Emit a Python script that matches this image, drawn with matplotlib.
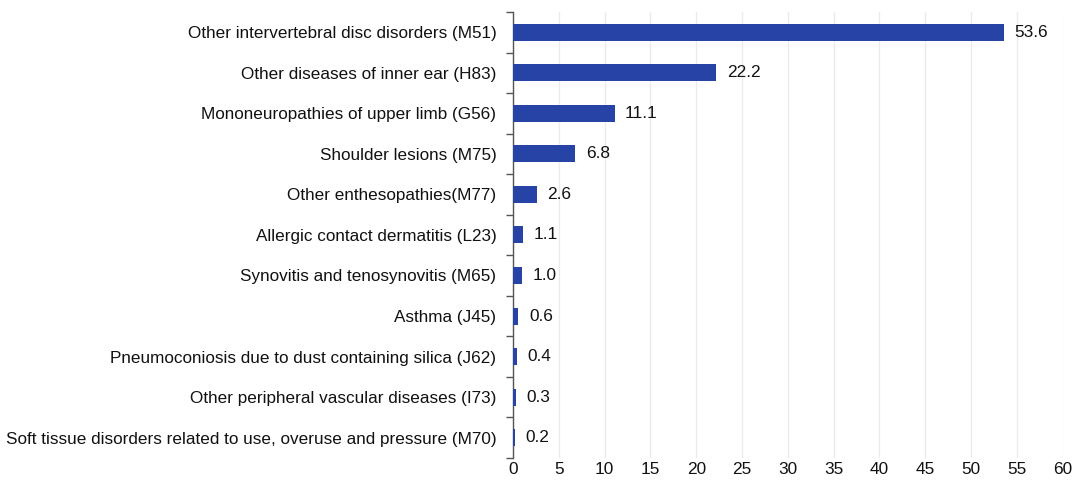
import matplotlib
matplotlib.use("Agg")
import matplotlib.pyplot as plt
import numpy as np

categories = [
    "Other intervertebral disc disorders (M51)",
    "Other diseases of inner ear (H83)",
    "Mononeuropathies of upper limb (G56)",
    "Shoulder lesions (M75)",
    "Other enthesopathies(M77)",
    "Allergic contact dermatitis (L23)",
    "Synovitis and tenosynovitis (M65)",
    "Asthma (J45)",
    "Pneumoconiosis due to dust containing silica (J62)",
    "Other peripheral vascular diseases (I73)",
    "Soft tissue disorders related to use, overuse and pressure (M70)",
]
values = [53.6, 22.2, 11.1, 6.8, 2.6, 1.1, 1.0, 0.6, 0.4, 0.3, 0.2]
x_ticks = list(range(0, 61, 5))

plt.rcParams['font.family'] = ['Liberation Sans', 'DejaVu Sans']

fig = plt.figure(figsize=(10.8, 4.86), dpi=100)
ax = fig.add_axes([0.475, 0.058, 0.509, 0.917])

y = np.arange(len(categories))
ax.barh(y, values, height=0.42, color="#2743A6", zorder=3)
for yi, v in zip(y, values):
    ax.annotate(f"{v:.1f}", (v, yi), xytext=(7.5, 0), textcoords="offset points",
                va="center", ha="left", fontsize=12.4, color="#111111")

ax.set_yticks(y)
ax.set_yticklabels(categories, fontsize=12.3, color="#111111")
ax.set_ylim(len(categories) - 0.5, -0.5)
ax.set_yticks(np.arange(-0.5, len(categories), 1.0), minor=True)
ax.tick_params(axis="y", which="major", length=0, pad=12)
ax.tick_params(axis="y", which="minor", length=5, width=1, color="#555555", direction="out")

ax.set_xlim(0, 60)
ax.set_xticks(x_ticks)
ax.set_xticklabels([str(t) for t in x_ticks], fontsize=12.4, color="#111111")
ax.tick_params(axis="x", length=0, pad=3)
ax.grid(axis="x", color="#ebebeb", linewidth=1, zorder=0)

for s in ["top", "right", "bottom"]:
    ax.spines[s].set_visible(False)
ax.spines["left"].set_color("#555555")
ax.spines["left"].set_linewidth(1)

fig.savefig("out.png", dpi=100, facecolor="white")
